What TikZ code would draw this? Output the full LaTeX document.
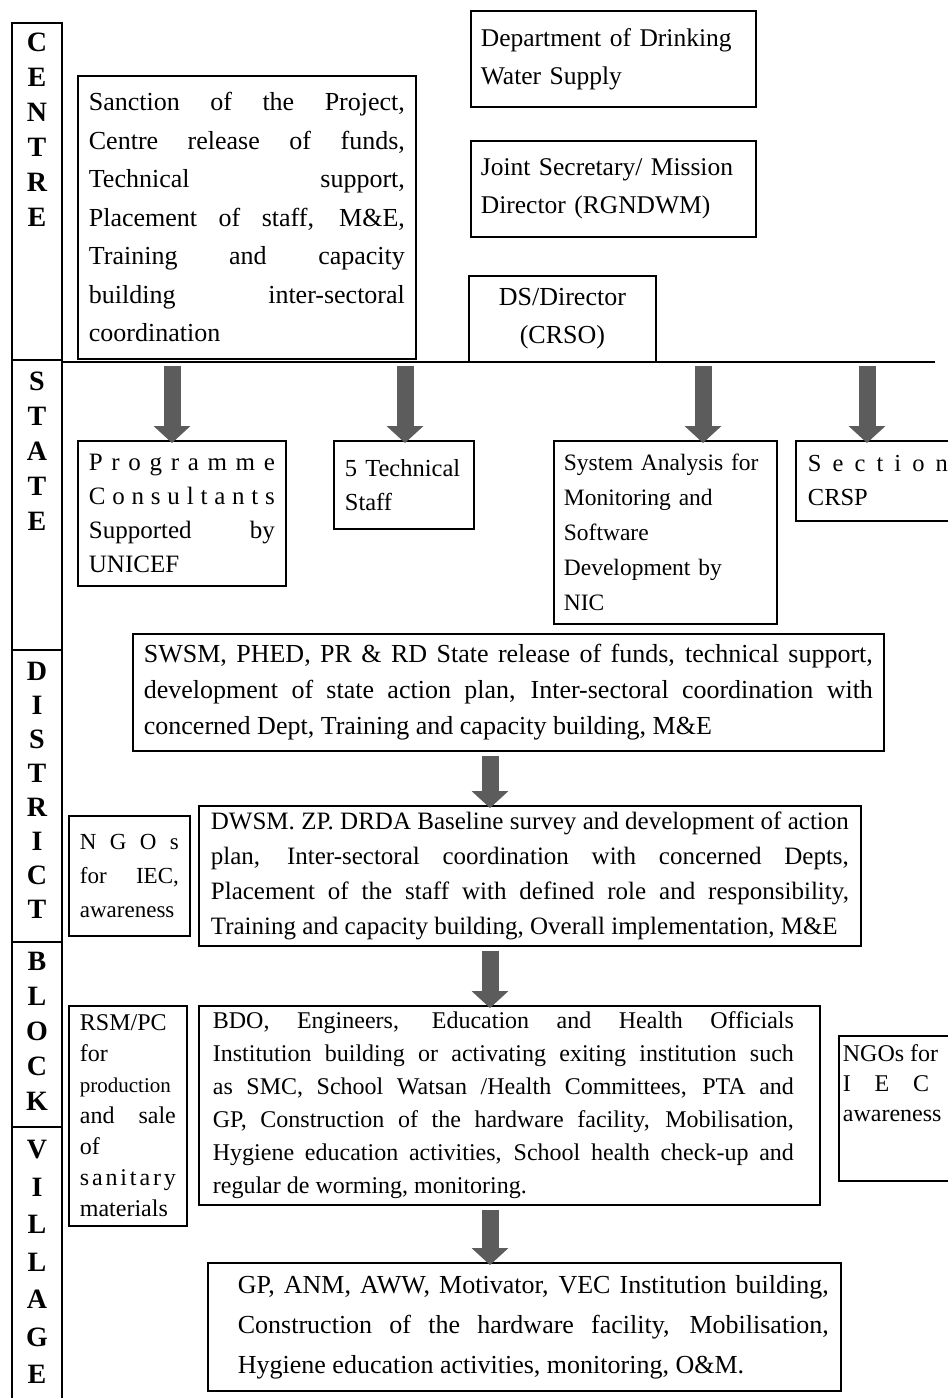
\documentclass[tikz,border=0pt]{standalone}
\usepackage{fontspec}
\setmainfont{Liberation Serif}
\usetikzlibrary{arrows.meta}

\definecolor{arrowgray}{HTML}{5C5C5C}

\tolerance=10000
\hyphenpenalty=10000
\exhyphenpenalty=10000

% spread the letters of one word over the full line
\makeatletter
\newcommand\spreadword[1]{\hbox to\linewidth{\spread@letters#1\@nil}}
\def\spread@letters#1#2\@nil{#1\ifx\relax#2\relax\else\hfil\spread@letters#2\@nil\fi}
\makeatother

\begin{document}
\begin{tikzpicture}
[
x=1pt,y=-1pt,
box/.style={draw,line width=1.8pt,anchor=north west,inner xsep=11pt,
  inner ysep=6pt,align=justify},
bigarrow/.style={draw=arrowgray,line width=17pt,
  -{Triangle[length=17pt,width=36pt]},shorten <=4pt},
sidelabel/.style={anchor=north,inner sep=0pt,align=center,
  font=\bfseries\fontsize{28}{#1}\selectfont},
sidelabel/.default=35
]
\useasboundingbox (0,0) rectangle (948,1398);

% level column on the left
\draw[line width=1.8pt] (12,1400) -- (12,23) -- (62,23) -- (62,1400);
\foreach \y in {360,650,942,1127} {
  \draw[line width=1.8pt] (12,\y) -- (62,\y);
}
\node[sidelabel] (lvcentre) at (37,33) {C\\E\\N\\T\\R\\E};
\node[sidelabel] (lvstate) at (37,372) {S\\T\\A\\T\\E};
\node[sidelabel=34] (lvdistrict) at (37,662) {D\\I\\S\\T\\R\\I\\C\\T};
\node[sidelabel] (lvblock) at (37,952) {B\\L\\O\\C\\K};
\node[sidelabel=37.5] (lvvillage) at (37,1140) {V\\I\\L\\L\\A\\G\\E};

% centre
\node[box,align=left,text width=265pt,minimum height=96pt,inner xsep=10pt,
  font=\fontsize{25.5}{38}\selectfont] (dept) at (470,10)
  {Department of Drinking\\Water Supply};
\node[box,align=left,text width=265pt,minimum height=96pt,inner xsep=10pt,
  font=\fontsize{25.5}{38}\selectfont] (jointsec) at (470,140)
  {Joint Secretary/ Mission\\Director (RGNDWM)};
\node[box,align=center,text width=165pt,minimum height=86pt,
  font=\fontsize{26}{38}\selectfont] (dsdir) at (468,275)
  {DS/Director\\(CRSO)};
\node[box,text width=316pt,minimum height=283pt,
  font=\fontsize{26}{38.5}\selectfont] (sanction) at (77,75)
  {Sanction of the Project,\linebreak Centre release of funds,\linebreak
   Technical support,\linebreak Placement of staff, M\&E,\linebreak
   Training and capacity\linebreak building inter-sectoral\linebreak
   coordination};

\coordinate (barleft) at (62,362);
\coordinate (barright) at (935,362);
\draw[line width=1.8pt] (barleft) -- (barright);
\coordinate (tap1) at (172,362);
\coordinate (tap2) at (405,362);
\coordinate (tap3) at (703,362);
\coordinate (tap4) at (867,362);

% state
\node[box,text width=186pt,minimum height=145pt,
  font=\fontsize{25}{34}\selectfont] (progcons) at (77,440)
  {\spreadword{Programme}\par\spreadword{Consultants}\par
   Supported by\linebreak UNICEF};
\node[box,align=left,text width=118pt,minimum height=88pt,
  font=\fontsize{24.5}{34}\selectfont] (techstaff) at (333,440)
  {5 Technical\\Staff};
\node[box,align=left,text width=203pt,minimum height=183pt,
  font=\fontsize{23.5}{35}\selectfont,inner xsep=10pt] (sysanalysis) at (553,440)
  {System Analysis for\\Monitoring and\\Software\\Development by\\NIC};
\node[box,text width=140pt,minimum height=80pt,inner xsep=12pt,
  font=\fontsize{24.5}{34}\selectfont] (sectioncrsp) at (795,440)
  {\spreadword{Section}\par CRSP};

\foreach \t/\n in {tap1/progcons,tap2/techstaff,tap3/sysanalysis,tap4/sectioncrsp} {
  \draw[bigarrow] (\t) -- ([yshift=-3pt]\t |- \n.north);
}

% district
\node[box,text width=729pt,minimum height=117pt,
  font=\fontsize{26}{36}\selectfont] (swsm) at (132,633)
  {SWSM, PHED, PR \& RD State release of funds, technical support,\linebreak
   development of state action plan, Inter-sectoral coordination with\linebreak
   concerned Dept, Training and capacity building, M\&E};
\node[box,text width=99pt,minimum height=120pt,
  font=\fontsize{23}{34}\selectfont] (ngoleft) at (68,815)
  {\spreadword{NGOs}\par for IEC,\linebreak awareness};
\node[box,text width=638pt,minimum height=140pt,inner xsep=12pt,
  font=\fontsize{25}{35}\selectfont] (dwsm) at (198,805)
  {DWSM. ZP. DRDA Baseline survey and development of action\linebreak
   plan, Inter-sectoral coordination with concerned Depts,\linebreak
   Placement of the staff with defined role and responsibility,\linebreak
   Training and capacity building, Overall implementation, M\&E};

% block
\node[box,text width=96pt,minimum height=220pt,
  font=\fontsize{24}{31}\selectfont] (rsmpc) at (68,1005)
  {RSM/PC\par for\par {\fontsize{21}{31}\selectfont production}\par
   and sale\linebreak of\par \spreadword{sanitary}\par materials};
\node[box,text width=593pt,minimum height=194pt,inner xsep=14pt,
  font=\fontsize{24}{33}\selectfont] (bdo) at (198,1005)
  {\rightskip=12pt BDO, Engineers, Education and Health Officials\linebreak
   Institution building or activating exiting institution such\linebreak
   as SMC, School Watsan /Health Committees, PTA and\linebreak
   GP, Construction of the hardware facility, Mobilisation,\linebreak
   Hygiene education activities, School health check-up and\linebreak
   regular de worming, monitoring.\par};
\node[box,text width=116pt,minimum height=145pt,inner xsep=4pt,
  font=\fontsize{24}{30}\selectfont] (ngoright) at (838,1035)
  {NGOs for\par \spreadword{IEC,}\par awareness\par\rule{0pt}{50pt}};

% village
\node[box,text width=609pt,minimum height=128pt,inner xsep=12pt,
  font=\fontsize{26}{40}\selectfont] (gpvillage) at (207,1262)
  {\leftskip=18pt GP, ANM, AWW, Motivator, VEC Institution building,\linebreak
   Construction of the hardware facility, Mobilisation,\linebreak
   Hygiene education activities, monitoring, O\&M.\par};

\coordinate (spine) at (490,0);
\draw[bigarrow] (swsm.south -| spine) -- ([yshift=-3pt]spine |- dwsm.north);
\draw[bigarrow] (dwsm.south -| spine) -- ([yshift=-3pt]spine |- bdo.north);
\draw[bigarrow] (bdo.south -| spine) -- ([yshift=-3pt]spine |- gpvillage.north);

\end{tikzpicture}
\end{document}
